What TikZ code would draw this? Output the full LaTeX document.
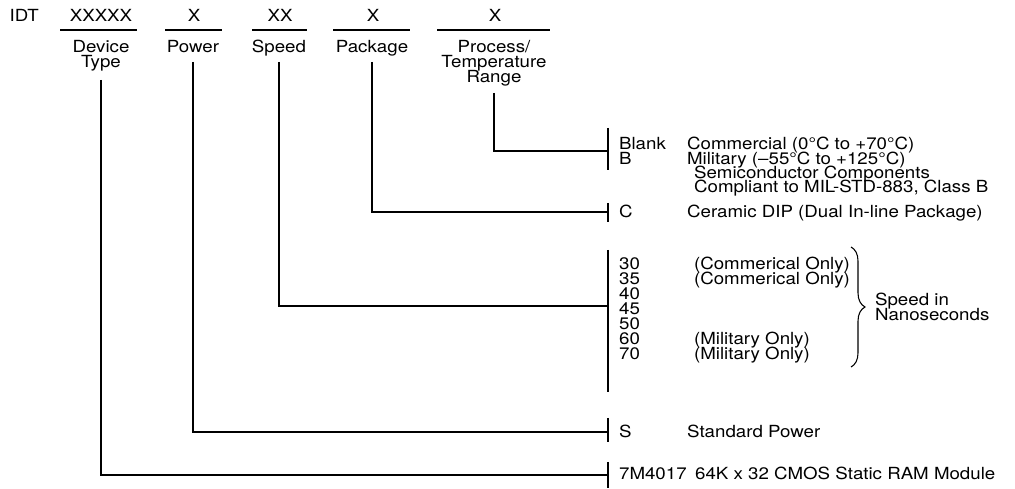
\documentclass[tikz,border=0pt]{standalone}
\usepackage{fontspec}
\setmainfont{TeX Gyre Heros}[FakeStretch=1.12]
\usetikzlibrary{decorations.pathreplacing}
\newcommand\ordfont{\fontsize{9.5}{8.54}\selectfont\lineskiplimit=-5pt\relax}

\begin{document}
\begin{tikzpicture}[every node/.style={font=\ordfont, inner sep=1pt},
	field/.style={anchor=base},
	caption/.style={anchor=north, align=center},
	code/.style={anchor=base west},
	wire/.style={line width=0.6pt}]
	\useasboundingbox (0,0) rectangle (20.3,9.76);
	% Header fields and captions:
	\node[code] (idt) at (0.15, 9.32){IDT};
	\node[field] (fdev) at (2.02, 9.32){XXXXX};
	\node[field] (fpow) at (3.88, 9.32){X};
	\node[field] (fspd) at (5.6, 9.32){XX};
	\node[field] (fpkg) at (7.46, 9.32){X};
	\node[field] (fproc) at (9.9, 9.32){X};
	\draw[wire] (1.2, 9.16) -- (2.74, 9.16);
	\draw[wire] (3.3, 9.16) -- (4.44, 9.16);
	\draw[wire] (5.04, 9.16) -- (6.14, 9.16);
	\draw[wire] (6.66, 9.16) -- (8.2, 9.16);
	\draw[wire] (8.74, 9.16) -- (11.0, 9.16);
	\node[caption] (cdev) at (2.02, 9.0){Device\\Type};
	\node[caption] (cpow) at (3.86, 9.0){Power};
	\node[caption] (cspd) at (5.58, 9.0){Speed};
	\node[caption] (cpkg) at (7.44, 9.0){Package};
	\node[caption] (cproc) at (9.88, 9.0){Process/\\Temperature\\Range};
	% Bars and junctions:
	\coordinate (jproc) at (12.16, 6.74);
	\coordinate (jpkg) at (12.16, 5.52);
	\coordinate (jspd) at (12.16, 3.64);
	\coordinate (jpow) at (12.16, 1.12);
	\coordinate (jdev) at (12.16, 0.26);
	\draw[wire] (12.16, 7.2) -- (12.16, 6.36);
	\draw[wire] (12.16, 5.7) -- (12.16, 5.32);
	\draw[wire] (12.16, 4.76) -- (12.16, 1.92);
	\draw[wire] (12.16, 1.4) -- (12.16, 0.92);
	\draw[wire] (12.16, 0.52) -- (12.16, 0);
	% Wires:
	\draw[wire] (cdev.south |- 0,8.16) |- (jdev);
	\draw[wire] (cpow.south |- 0,8.52) |- (jpow);
	\draw[wire] (cspd.south |- 0,8.52) |- (jspd);
	\draw[wire] (cpkg.south |- 0,8.52) |- (jpkg);
	\draw[wire] (cproc.south |- 0,7.9) |- (jproc);
	% Codes and meanings:
	\node[code] (kblank) at (12.34, 6.77){Blank};
	\node[code] (kb) at (12.34, 6.47){B};
	\node[code] (dcom) at (13.7, 6.77){Commercial (0°C to +70°C)};
	\node[code] (dmil) at (13.7, 6.47){Military (–55°C to +125°C)};
	\node[code] (dsemi) at (13.84, 6.19){Semiconductor Components};
	\node[code] (dcomp) at (13.84, 5.91){Compliant to MIL-STD-883, Class B};
	\node[code] (kc) at (12.34, 5.41){C};
	\node[code] (dcer) at (13.7, 5.41){Ceramic DIP (Dual In-line Package)};
	\foreach \v [count=\i] in {30,35,40,45,50,60,70}
		\node[code] (k\v) at (12.34, 4.67-0.3*\i){\v};
	\node[code] (n30) at (13.84, 4.37){(Commerical Only)};
	\node[code] (n35) at (13.84, 4.07){(Commerical Only)};
	\node[code] (n60) at (13.84, 2.87){(Military Only)};
	\node[code] (n70) at (13.84, 2.57){(Military Only)};
	\draw[wire, decorate, decoration={brace, amplitude=0.28cm}] (17.02, 4.82) -- (17.02, 2.42);
	\node[anchor=west, align=left] (nano) at (17.46, 3.62){Speed in\\Nanoseconds};
	\node[code] (ks) at (12.34, 1.01){S};
	\node[code] (dstd) at (13.7, 1.01){Standard Power};
	\node[code] (kmod) at (12.34, 0.17){7M4017};
	\node[code] (dmod) at (13.86, 0.17){64K x 32 CMOS Static RAM Module};
\end{tikzpicture}
\end{document}
